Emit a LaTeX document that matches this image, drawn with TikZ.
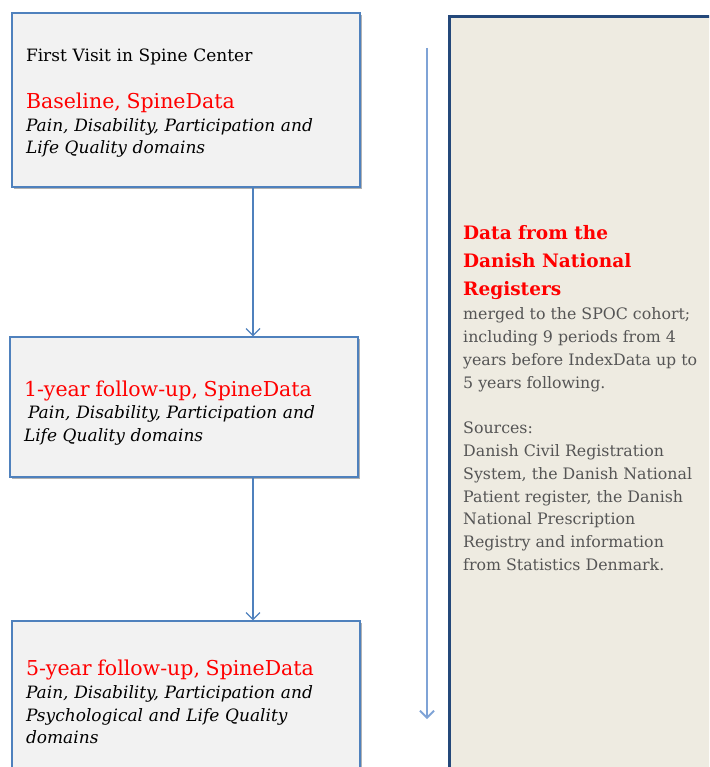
\documentclass[tikz,border=0pt]{standalone}
\usepackage{xcolor}
\usepackage{fontspec}
\setmainfont{DejaVu Serif}
\usepackage{tikz}
\usetikzlibrary{positioning,arrows.meta,shadows}

\definecolor{boxblue}{HTML}{4F81BD}
\definecolor{boxgray}{HTML}{F2F2F2}
\definecolor{regfill}{HTML}{EEEBE1}
\definecolor{regline}{HTML}{24487A}
\definecolor{lightblue}{HTML}{7FA3D6}
\definecolor{regtext}{HTML}{555555}

\newcommand{\redhead}[1]{{\color{red}\fontsize{20.5}{26}\selectfont #1}}

\tikzset{
  stage/.style={draw=boxblue, line width=1.3pt, fill=boxgray, minimum width=348pt,
    text width=320pt, inner xsep=14pt, align=left, font=\fontsize{17}{22.8}\selectfont,
    drop shadow={shadow xshift=1.5pt, shadow yshift=-2pt, opacity=0.3, fill=black}},
  flow/.style={draw=boxblue, line width=1.2pt, -{Straight Barb[length=7pt,width=14pt]}},
}

\begin{document}
\begin{tikzpicture}[x=1pt,y=-1pt]
  \useasboundingbox (0,0) rectangle (709,767);
  \clip (0,0) rectangle (709,767);

  % Spine Center visits
  \node[stage, minimum height=174pt] (base) at (186,100) {%
    \rule{0pt}{19pt}First Visit in Spine Center\\[24pt]
    \redhead{Baseline, SpineData}\\
    \textit{Pain, Disability, Participation and}\\
    \textit{Life Quality domains}};
  \node[stage, minimum height=140pt] (oneyr) at (184,407) {%
    \rule{0pt}{27.5pt}\redhead{1-year follow-up, SpineData}\\
    \hspace*{4pt}\textit{Pain, Disability, Participation and}\\
    \textit{Life Quality domains}};
  \node[stage, minimum height=162pt] (fiveyr) at (186,702) {%
    \redhead{5-year follow-up, SpineData}\\
    \textit{Pain, Disability, Participation and}\\
    \textit{Psychological and Life Quality}\\
    \textit{domains}};

  % Registers
  \node[draw=regline, line width=3pt, fill=regfill, minimum width=300pt, minimum height=800pt,
    anchor=north west] (reg) at (448,15) {};
  \node[anchor=north west, inner sep=0pt, align=left, text=red,
    font=\fontsize{18.5}{28}\selectfont\bfseries] (head) at (463,225) {%
    Data from the\\Danish National\\Registers};
  \node[below right=8pt and 0pt of head.south west, anchor=north west, inner sep=0pt,
    align=left, text=regtext, font=\fontsize{15.8}{22.8}\selectfont] (src) {%
    merged to the SPOC cohort;\\
    including 9 periods from 4\\
    years before IndexData up to\\
    5 years following.\\[22.8pt]
    Sources:\\
    Danish Civil Registration\\
    System, the Danish National\\
    Patient register, the Danish\\
    National Prescription\\
    Registry and information\\
    from Statistics Denmark.};

  % Arrows
  \coordinate (ax) at (253,0);
  \draw[flow] (base.south -| ax) -- (oneyr.north -| ax);
  \draw[flow] (oneyr.south -| ax) -- (fiveyr.north -| ax);
  \coordinate (ttop) at (427,48);
  \coordinate (tend) at (427,719);
  \draw[flow, draw=lightblue, line width=1.8pt] (ttop) -- (tend);
\end{tikzpicture}
\end{document}
